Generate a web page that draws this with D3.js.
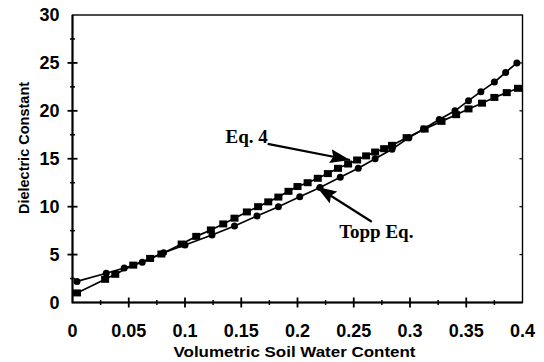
<!DOCTYPE html>
<html>
<head>
<meta charset="utf-8">
<script src="https://cdn.jsdelivr.net/npm/d3@7"></script>
<style>
    body { margin: 0; background: #fff; }
    #chart { width: 544px; height: 362px; }
    text { fill: #000; }
</style>
</head>
<body>
<div id="chart"></div>
<script>
// values
const eq4Theta = [0.004, 0.029, 0.038, 0.054, 0.069, 0.079, 0.097, 0.110, 0.123, 0.134, 0.144, 0.155, 0.165, 0.174, 0.183, 0.192, 0.200, 0.209, 0.218, 0.227, 0.236, 0.245, 0.253, 0.261, 0.269, 0.277, 0.284, 0.297, 0.313, 0.328, 0.341, 0.352, 0.364, 0.375, 0.386, 0.396];
const eq4Eps = [1.0, 2.42, 2.94, 3.9, 4.6, 5.06, 6.1, 6.9, 7.57, 8.2, 8.8, 9.45, 10.0, 10.5, 11.0, 11.6, 12.1, 12.5, 12.96, 13.45, 14.0, 14.45, 14.87, 15.3, 15.7, 16.05, 16.4, 17.2, 18.1, 18.9, 19.6, 20.2, 20.8, 21.4, 21.9, 22.35];
const toppTheta = [0.004, 0.030, 0.046, 0.062, 0.081, 0.100, 0.124, 0.144, 0.164, 0.183, 0.202, 0.220, 0.238, 0.254, 0.269, 0.284, 0.299, 0.312, 0.326, 0.340, 0.352, 0.363, 0.375, 0.385, 0.395];
const toppEps = [2.2, 3.05, 3.6, 4.2, 5.2, 6.0, 7.04, 7.98, 9.03, 10.0, 11.04, 12.0, 13.06, 14.0, 15.0, 16.0, 17.2, 18.1, 19.1, 20.0, 21.06, 22.0, 23.0, 24.0, 25.0];
const xTickValues = [0, 0.05, 0.1, 0.15, 0.2, 0.25, 0.3, 0.35, 0.4];
const xTickLabels = ['0', '0.05', '0.1', '0.15', '0.2', '0.25', '0.3', '0.35', '0.4'];
const yTickValues = [0, 5, 10, 15, 20, 25, 30];
const notes = [
    { text: 'Eq. 4', at: [0.136, 16.6], from: [0.1735, 16.55], to: [0.2467, 14.87] },
    { text: 'Topp Eq.', at: [0.237, 6.78], from: [0.266, 8.43], to: [0.217, 12.08] }
];

(function () {
    'use strict';

    const W = 544, H = 362;
    const margin = { top: 15, right: 21.5, bottom: 59.5, left: 72.5 };
    const width = W - margin.left - margin.right;
    const height = H - margin.top - margin.bottom;

    const svg = d3.select('#chart').append('svg')
        .attr('width', W).attr('height', H);

    svg.append('defs').append('marker')
        .attr('id', 'head')
        .attr('markerUnits', 'userSpaceOnUse')
        .attr('viewBox', '0 0 20 14')
        .attr('refX', 20).attr('refY', 7)
        .attr('markerWidth', 20).attr('markerHeight', 14)
        .attr('orient', 'auto')
        .append('path').attr('d', 'M0,0L20,7L0,14L3,7Z').attr('fill', '#000');

    const g = svg.append('g')
        .attr('transform', 'translate(' + margin.left + ',' + margin.top + ')');

    const x = d3.scaleLinear().domain([0, 0.4]).range([0, width]);
    const y = d3.scaleLinear().domain([0, 30]).range([height, 0]);

    // frame: heavier on the two value axes
    g.append('rect')
        .attr('width', width).attr('height', height)
        .attr('fill', 'none').attr('stroke', '#000').attr('stroke-width', 1.4);
    g.append('path')
        .attr('d', 'M0,0V' + height + 'H' + width)
        .attr('fill', 'none').attr('stroke', '#000').attr('stroke-width', 2);

    // minor ticks (half steps) crossing the axes
    const xMinor = d3.range(0.025, 0.4, 0.05);
    const yMinor = d3.range(2.5, 30, 5);

    g.selectAll('.xmaj').data(xTickValues.slice(1, -1)).enter().append('line')
        .attr('x1', x).attr('x2', x)
        .attr('y1', height - 5).attr('y2', height + 5)
        .attr('stroke', '#000').attr('stroke-width', 1.8);
    g.selectAll('.xmin').data(xMinor).enter().append('line')
        .attr('x1', x).attr('x2', x)
        .attr('y1', height - 2.5).attr('y2', height + 2.5)
        .attr('stroke', '#000').attr('stroke-width', 1.5);
    g.selectAll('.ymaj').data(yTickValues.slice(1, -1)).enter().append('line')
        .attr('y1', y).attr('y2', y)
        .attr('x1', -5).attr('x2', 5)
        .attr('stroke', '#000').attr('stroke-width', 1.8);
    g.selectAll('.ymin').data(yMinor).enter().append('line')
        .attr('y1', y).attr('y2', y)
        .attr('x1', -2.5).attr('x2', 2.5)
        .attr('stroke', '#000').attr('stroke-width', 1.5);
    g.selectAll('.yright').data(yTickValues.slice(1, -1)).enter().append('line')
        .attr('y1', y).attr('y2', y)
        .attr('x1', width - 3).attr('x2', width)
        .attr('stroke', '#000').attr('stroke-width', 1.2);

    // tick labels
    g.selectAll('.xlab').data(xTickValues).enter().append('text')
        .attr('x', x).attr('y', height + 34)
        .attr('text-anchor', 'middle')
        .style('font', 'bold 18px "Liberation Sans", Arial, sans-serif')
        .text(function (d, i) { return xTickLabels[i]; });
    g.selectAll('.ylab').data(yTickValues).enter().append('text')
        .attr('x', -13).attr('y', y).attr('dy', '0.36em')
        .attr('text-anchor', 'end')
        .style('font', 'bold 18px "Liberation Sans", Arial, sans-serif')
        .text(function (d) { return d; });

    // axis titles
    svg.append('text')
        .attr('x', margin.left + width / 2 - 3).attr('y', 357)
        .attr('text-anchor', 'middle')
        .attr('textLength', 242).attr('lengthAdjust', 'spacingAndGlyphs')
        .style('font', 'bold 15px "Liberation Sans", Arial, sans-serif')
        .text('Volumetric Soil Water Content');
    svg.append('text')
        .attr('transform', 'translate(29,148) rotate(-90)')
        .attr('text-anchor', 'middle')
        .style('font', 'bold 14.5px "Liberation Sans", Arial, sans-serif')
        .text('Dielectric Constant');

    const line = d3.line()
        .x(function (d) { return x(d[0]); })
        .y(function (d) { return y(d[1]); });

    const eq4 = eq4Theta.map(function (t, i) { return [t, eq4Eps[i]]; });
    const topp = toppTheta.map(function (t, i) { return [t, toppEps[i]]; });

    [eq4, topp].forEach(function (s) {
        g.append('path').datum(s)
            .attr('d', line)
            .attr('fill', 'none').attr('stroke', '#000').attr('stroke-width', 1.7);
    });

    g.selectAll('.sq').data(eq4).enter().append('rect')
        .attr('x', function (d) { return x(d[0]) - 4; })
        .attr('y', function (d) { return y(d[1]) - 3.5; })
        .attr('width', 8).attr('height', 7)
        .attr('fill', '#000');

    g.selectAll('.dot').data(topp).enter().append('circle')
        .attr('cx', function (d) { return x(d[0]); })
        .attr('cy', function (d) { return y(d[1]); })
        .attr('r', 3.5)
        .attr('fill', '#000');

    // annotations with arrows
    notes.forEach(function (n) {
        g.append('line')
            .attr('x1', x(n.from[0])).attr('y1', y(n.from[1]))
            .attr('x2', x(n.to[0])).attr('y2', y(n.to[1]))
            .attr('stroke', '#000').attr('stroke-width', 2.2)
            .attr('marker-end', 'url(#head)');
        g.append('text')
            .attr('x', x(n.at[0])).attr('y', y(n.at[1]))
            .style('font', 'bold 19px "Liberation Serif", "Times New Roman", serif')
            .text(n.text);
    });
}());
</script>
</body>
</html>
